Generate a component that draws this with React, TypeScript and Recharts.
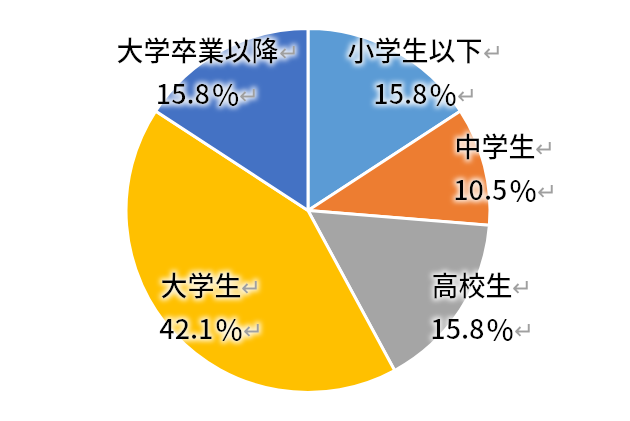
import React from "react";
import { PieChart, Pie, Cell } from "recharts";

const categories = ["小学生以下", "中学生", "高校生", "大学生", "大学卒業以降"];
const percents = [15.8, 10.5, 15.8, 42.1, 15.8];
const colors = ["#5B9BD5", "#ED7D31", "#A5A5A5", "#FFC000", "#4472C4"];

// label centre offsets, in units of the outer radius (Excel "best fit" look)
const labelOffsets: [number, number][] = [
  [0.643, -0.766],
  [1.082, -0.239],
  [0.956, 0.525],
  [-0.533, 0.525],
  [-0.552, -0.766],
];

const data = categories.map((name, i) => ({ name, value: percents[i] }));

const FONT = "'Noto Sans CJK JP', 'Noto Sans', sans-serif";

const renderLabel = (props: any) => {
  const { cx, cy, outerRadius, index } = props;
  const [ox, oy] = labelOffsets[index];
  const x = cx + ox * outerRadius;
  const y = cy + oy * outerRadius;
  const gap = 43;
  const arrow = (
    <tspan fill="#a0a0a0" fontSize={24} fontWeight={400} dx={0}>
      ↵
    </tspan>
  );
  return (
    <g filter="url(#labelGlow)">
      <text
        x={x}
        y={y - gap / 2}
        textAnchor="middle"
        dominantBaseline="central"
        fontFamily={FONT}
        fontSize={27}
        fontWeight={500}
        fill="#000"
      >
        {categories[index]}
        {arrow}
      </text>
      <text
        x={x}
        y={y + gap / 2}
        textAnchor="middle"
        dominantBaseline="central"
        fontFamily={FONT}
        fontSize={27}
        fontWeight={500}
        fill="#000"
      >
        {percents[index].toFixed(1)}
        <tspan dx={2} fontSize={29}>%</tspan>
        {arrow}
      </text>
    </g>
  );
};

export default function App() {
  return (
    <div style={{ position: "absolute", left: 0, top: 0, width: 630, height: 421, background: "#fff" }}>
      <svg width={0} height={0} style={{ position: "absolute" }}>
        <defs>
          <filter id="labelGlow" x="-20%" y="-30%" width="140%" height="160%">
            <feMorphology in="SourceAlpha" operator="dilate" radius={1.5} result="dil" />
            <feGaussianBlur in="dil" stdDeviation={2.5} result="blur" />
            <feFlood floodColor="#ffffff" floodOpacity={0.85} />
            <feComposite in2="blur" operator="in" result="glow" />
            <feMerge>
              <feMergeNode in="glow" />
              <feMergeNode in="SourceGraphic" />
            </feMerge>
          </filter>
        </defs>
      </svg>
      <PieChart width={630} height={421} margin={{ top: 0, right: 0, bottom: 0, left: 0 }}>
        <Pie
          data={data}
          dataKey="value"
          nameKey="name"
          cx={308}
          cy={210.5}
          outerRadius={182}
          startAngle={90}
          endAngle={-270}
          stroke="#ffffff"
          strokeWidth={3}
          label={renderLabel}
          labelLine={false}
          isAnimationActive={false}
        >
          {data.map((d, i) => (
            <Cell key={d.name} fill={colors[i]} />
          ))}
        </Pie>
      </PieChart>
    </div>
  );
}
